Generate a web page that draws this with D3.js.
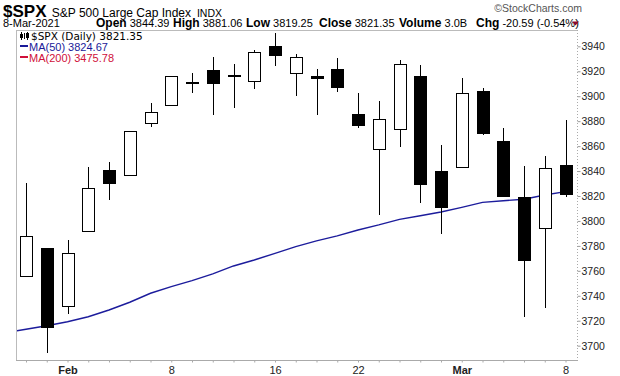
<!DOCTYPE html>
<html>
<head>
<meta charset="utf-8">
<script src="https://cdn.jsdelivr.net/npm/d3@7"></script>
<style>
  body { margin: 0; background: #fff; }
  svg { display: block; }
</style>
</head>
<body>
<div id="chart"></div>
<script>
// $SPX daily candles, Jan 28 - Mar 8 2021 (plus Jan 27 for the MA start)
const days = ["2021-01-28","2021-01-29","2021-02-01","2021-02-02","2021-02-03","2021-02-04","2021-02-05",
    "2021-02-08","2021-02-09","2021-02-10","2021-02-11","2021-02-12","2021-02-16","2021-02-17","2021-02-18",
    "2021-02-19","2021-02-22","2021-02-23","2021-02-24","2021-02-25","2021-02-26","2021-03-01","2021-03-02",
    "2021-03-03","2021-03-04","2021-03-05","2021-03-08"];
const opens  = [3755.75,3778.05,3731.17,3791.84,3840.27,3836.66,3878.30,3892.59,3910.49,3920.78,3916.40,3911.65,
    3939.61,3918.50,3915.86,3921.16,3885.55,3857.07,3873.71,3915.80,3839.66,3842.51,3903.64,3863.99,3818.53,3793.58,3844.39];
const highs  = [3830.50,3778.05,3784.32,3843.09,3847.51,3872.42,3894.56,3915.77,3918.35,3931.50,3925.99,3937.23,
    3950.43,3933.61,3921.98,3930.41,3902.92,3895.98,3928.65,3925.02,3861.08,3914.50,3906.41,3874.47,3843.67,3851.69,3881.06];
const lows   = [3755.75,3694.12,3725.62,3791.84,3816.68,3836.66,3874.93,3892.59,3902.64,3884.94,3890.39,3905.78,
    3923.85,3900.43,3885.03,3903.07,3874.71,3804.40,3859.60,3814.04,3789.54,3842.51,3868.57,3818.86,3723.34,3730.19,3819.25];
const closes = [3787.38,3714.24,3773.86,3826.31,3830.17,3871.74,3886.83,3915.59,3911.23,3909.88,3916.38,3934.83,
    3932.59,3931.33,3913.97,3906.71,3876.50,3881.37,3925.43,3829.34,3811.15,3901.82,3870.29,3819.72,3768.47,3841.94,3821.35];

const maDays = ["2021-01-27"].concat(days);
const ma50 = [3710.3,3713.2,3716.0,3719.2,3723.2,3728.6,3734.8,3742.0,3747.3,3752.1,3757.5,3763.9,3768.7,3774.0,
    3779.4,3784.0,3788.0,3792.7,3796.8,3801.3,3804.2,3807.2,3810.9,3814.9,3816.2,3817.4,3820.8,3823.5];

const xLabels = {"2021-02-01": "Feb", "2021-02-08": "8", "2021-02-16": "16", "2021-02-22": "22",
    "2021-03-01": "Mar", "2021-03-08": "8"};
const yTicks = [3700,3720,3740,3760,3780,3800,3820,3840,3860,3880,3900,3920,3940];

// header quote line
const quoteNames  = ["Open", "High", "Low", "Close", "Volume", "Chg"];
const quoteValues = ["3844.39", "3881.06", "3819.25", "3821.35", "3.0B", "-20.59 (-0.54%)"];

const W = 620, H = 376;
const plot = {left: 16, right: 577, top: 30, bottom: 360};
const sans = "'Liberation Sans', Arial, sans-serif";

const svg = d3.select("#chart").append("svg")
    .attr("width", W).attr("height", H)
    .style("font-family", sans);

// scales
const x = d3.scalePoint().domain(days).range([26, 565.5]);
const step = x.step();
const xPos = d => d === "2021-01-27" ? x(days[0]) - step : x(d);
const y = d3.scaleLinear().domain([3688.5, 3953.1]).range([plot.bottom, plot.top]);

// header
const head = svg.append("g");
const t1 = head.append("text").attr("x", 3).attr("y", 17);
t1.append("tspan").text("$SPX").attr("font-weight", "bold").attr("font-size", 17);
t1.append("tspan").text(" S&P 500 Large Cap Index").attr("font-size", 12).attr("dx", 2);
t1.append("tspan").text(" INDX").attr("font-size", 10.5).attr("dx", 3);

head.append("text").attr("x", 582).attr("y", 12).attr("text-anchor", "end")
    .attr("font-size", 10.5).attr("fill", "#555").text("\u00A9StockCharts.com");

head.append("text").attr("x", 3).attr("y", 27).attr("font-size", 11).text("8-Mar-2021");
// spread the quote groups like the reference
const quoteX = d3.scaleOrdinal().domain(quoteNames).range([96, 173, 246, 319, 399, 476]);
quoteNames.forEach((name, i) => {
    const t = head.append("text").attr("x", quoteX(name)).attr("y", 27).attr("font-size", 11);
    t.append("tspan").text(name).attr("font-weight", "bold").attr("font-size", 12);
    t.append("tspan").text(" " + quoteValues[i]);
});
head.append("path").attr("d", "M572,21.5 L579,21.5 L575.5,25.5 Z").attr("fill", "#8b0a2a");

// frame
const frame = svg.append("g").attr("shape-rendering", "crispEdges");
frame.append("line").attr("x1", plot.left).attr("x2", plot.right).attr("y1", plot.top + 0.5).attr("y2", plot.top + 0.5)
    .attr("stroke", "#bbb");
frame.append("line").attr("x1", plot.left + 0.5).attr("x2", plot.left + 0.5).attr("y1", plot.top).attr("y2", plot.bottom)
    .attr("stroke", "#bbb");
frame.append("line").attr("x1", plot.right + 0.5).attr("x2", plot.right + 0.5).attr("y1", plot.top).attr("y2", plot.bottom)
    .attr("stroke", "#aaa").attr("stroke-dasharray", "1,2");

// y axis (right)
const yAxis = svg.append("g").attr("transform", "translate(" + (plot.right + 0.5) + ",0)")
    .call(d3.axisRight(y).tickValues(yTicks).tickSize(3).tickPadding(1).tickFormat(d3.format("d")));
yAxis.select(".domain").remove();
yAxis.selectAll(".tick line").attr("stroke", "#999");
yAxis.selectAll("text").attr("font-family", sans).attr("font-size", 10.5).attr("fill", "#222");

// x axis
const xAxis = svg.append("g").attr("transform", "translate(0," + (plot.bottom + 0.5) + ")")
    .call(d3.axisBottom(x).tickValues(days).tickSize(2).tickPadding(4).tickFormat(d => xLabels[d] || ""));
xAxis.select(".domain").attr("d", "M" + plot.left + ",0H" + (plot.right + 1)).attr("stroke", "#aaa");
xAxis.selectAll(".tick line").attr("stroke", "#aaa");
xAxis.selectAll("text").attr("font-family", sans).attr("font-size", 11).attr("fill", "#222")
    .attr("font-weight", d => (xLabels[d] === "Feb" || xLabels[d] === "Mar") ? "bold" : "normal");

// plot clip
svg.append("clipPath").attr("id", "clip").append("rect")
    .attr("x", plot.left + 1).attr("y", plot.top + 1)
    .attr("width", plot.right - plot.left - 1).attr("height", plot.bottom - plot.top - 1);

// MA(50)
const maLine = d3.line().x((d, i) => xPos(maDays[i])).y(d => y(d));
svg.append("path").datum(ma50).attr("clip-path", "url(#clip)")
    .attr("d", maLine).attr("fill", "none").attr("stroke", "#1c1c9c").attr("stroke-width", 1.4);

// candles
const bodyW = 12;
const candles = svg.append("g").attr("shape-rendering", "crispEdges");
const cg = candles.selectAll("g").data(days).join("g");
cg.append("line")
    .attr("x1", d => Math.round(x(d)) + 0.5).attr("x2", d => Math.round(x(d)) + 0.5)
    .attr("y1", (d, i) => y(highs[i])).attr("y2", (d, i) => y(lows[i]))
    .attr("stroke", "#000");
cg.append("rect")
    .attr("x", d => Math.round(x(d)) - bodyW / 2 + 0.5)
    .attr("y", (d, i) => y(Math.max(opens[i], closes[i])))
    .attr("width", bodyW)
    .attr("height", (d, i) => Math.max(0.5, Math.abs(y(opens[i]) - y(closes[i]))))
    .attr("fill", (d, i) => closes[i] >= opens[i] ? "#fff" : "#000")
    .attr("stroke", "#000").attr("stroke-width", 1);

// legend
const leg = svg.append("g");
const icon = leg.append("g").attr("transform", "translate(20,32)").attr("stroke", "#000").attr("shape-rendering", "crispEdges");
icon.append("line").attr("x1", 1.5).attr("x2", 1.5).attr("y1", 0).attr("y2", 8);
icon.append("rect").attr("x", 0.5).attr("y", 2.5).attr("width", 2).attr("height", 3).attr("fill", "#000");
icon.append("line").attr("x1", 4.5).attr("x2", 4.5).attr("y1", 1).attr("y2", 7);
icon.append("line").attr("x1", 7.5).attr("x2", 7.5).attr("y1", 0).attr("y2", 8);
icon.append("rect").attr("x", 6.5).attr("y", 1.5).attr("width", 2).attr("height", 4).attr("fill", "#000");
leg.append("text").attr("x", 31).attr("y", 40).attr("font-family", "'DejaVu Sans', Verdana, sans-serif")
    .attr("font-size", 10.5).attr("fill", "#000").text("$SPX (Daily) 3821.35");
const maLeg = [["MA(50) 3824.67", "#1a1a99"], ["MA(200) 3475.78", "#d0103a"]];
maLeg.forEach((m, i) => {
    leg.append("rect").attr("x", 20).attr("y", 45 + i * 11).attr("width", 8).attr("height", 2).attr("fill", m[1]);
    leg.append("text").attr("x", 29).attr("y", 51 + i * 11).attr("font-size", 11).attr("fill", m[1]).text(m[0]);
});
</script>
</body>
</html>
